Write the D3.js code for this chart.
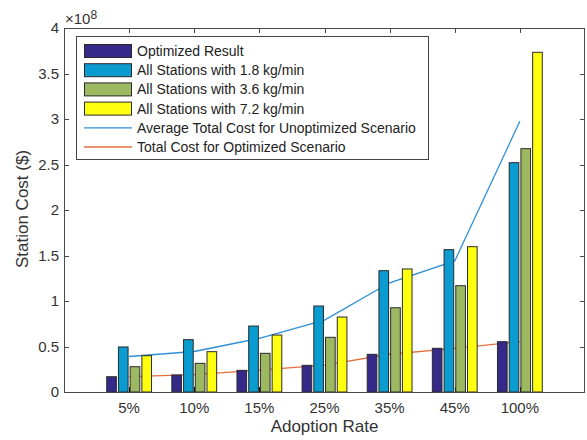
<!DOCTYPE html>
<html>
<head>
<meta charset="utf-8">
<script src="https://cdn.jsdelivr.net/npm/d3@7"></script>
<style>
  html, body { margin: 0; padding: 0; background: #fff; }
  svg { display: block; font-family: "Liberation Sans", Arial, Helvetica, sans-serif; }
</style>
</head>
<body>
<svg id="chart" width="587" height="440"></svg>
<script>
// ---- Data (values in units of 1e8 $) ----
const categories = ["5%", "10%", "15%", "25%", "35%", "45%", "100%"];
const optimizedResult = [0.168, 0.187, 0.238, 0.293, 0.414, 0.480, 0.553];
const stations18 = [0.495, 0.575, 0.725, 0.945, 1.333, 1.564, 2.52];
const stations36 = [0.278, 0.315, 0.425, 0.601, 0.926, 1.168, 2.674];
const stations72 = [0.399, 0.443, 0.626, 0.824, 1.352, 1.597, 3.733];
const avgUnoptimized = [0.39, 0.445, 0.59, 0.79, 1.2, 1.44, 2.975];
const optimizedTotal = [0.17, 0.19, 0.24, 0.295, 0.415, 0.48, 0.553];
const yTicks = [0, 0.5, 1, 1.5, 2, 2.5, 3, 3.5, 4];
const yTickLabels = ["0", "0.5", "1", "1.5", "2", "2.5", "3", "3.5", "4"];

const barSeries = [
  { name: "Optimized Result", values: optimizedResult, color: "#35298a" },
  { name: "All Stations with 1.8 kg/min", values: stations18, color: "#0a9bd0" },
  { name: "All Stations with 3.6 kg/min", values: stations36, color: "#9cb962" },
  { name: "All Stations with 7.2 kg/min", values: stations72, color: "#ffff10" }
];
const lineSeries = [
  { name: "Average Total Cost for Unoptimized Scenario", values: avgUnoptimized, color: "#2f8fd6" },
  { name: "Total Cost for Optimized Scenario", values: optimizedTotal, color: "#e2703f" }
];

// ---- Layout ----
const L = 64, R = 585, T = 28, B = 392;
const svg = d3.select("#chart");
const x = d3.scaleLinear().domain([0, 8]).range([L, R]);
const y = d3.scaleLinear().domain([0, 4]).range([B, T]);
const catPos = categories.map((c, i) => i + 1);
const slot = 0.18, barW = 0.148;
const axisColor = "#4a4a4a", textColor = "#333";

// inward ticks (drawn below bars)
const ticksG = svg.append("g").attr("stroke", axisColor).attr("stroke-width", 1);
yTicks.forEach(v => {
  const yy = Math.round(y(v)) + 0.5;
  ticksG.append("line").attr("x1", L).attr("x2", L + 5).attr("y1", yy).attr("y2", yy);
  ticksG.append("line").attr("x1", R - 5).attr("x2", R).attr("y1", yy).attr("y2", yy);
});
catPos.forEach(p => {
  const xx = Math.round(x(p)) + 0.5;
  ticksG.append("line").attr("x1", xx).attr("x2", xx).attr("y1", T).attr("y2", T + 5);
  ticksG.append("line").attr("x1", xx).attr("x2", xx).attr("y1", B - 5).attr("y2", B).attr("stroke", "#111");
});

// lines (behind bars)
const lineGen = d3.line().x((d, i) => x(catPos[i])).y(d => y(d));
lineSeries.forEach(s => {
  svg.append("path").datum(s.values).attr("d", lineGen)
    .attr("fill", "none").attr("stroke", s.color).attr("stroke-width", 1.3);
});

// bars
barSeries.forEach((s, si) => {
  svg.append("g").selectAll("rect").data(s.values).join("rect")
    .attr("x", (d, i) => x(catPos[i] + (si - 1.5) * slot - barW / 2))
    .attr("width", x(barW) - x(0))
    .attr("y", d => y(d))
    .attr("height", d => y(0) - y(d))
    .attr("fill", s.color)
    .attr("stroke", "#2a2a2a")
    .attr("stroke-width", 1);
});

// axes box
svg.append("rect").attr("x", L + 0.5).attr("y", T + 0.5)
  .attr("width", R - L - 1).attr("height", B - T)
  .attr("fill", "none").attr("stroke", axisColor).attr("stroke-width", 1);

// y tick labels
svg.append("g").selectAll("text").data(yTicks).join("text")
  .attr("x", 59).attr("y", d => y(d)).attr("dy", "0.35em")
  .attr("text-anchor", "end").attr("font-size", 15).attr("fill", textColor)
  .text((d, i) => yTickLabels[i]);

// x tick labels
svg.append("g").selectAll("text").data(categories).join("text")
  .attr("x", (d, i) => x(catPos[i])).attr("y", 413)
  .attr("text-anchor", "middle").attr("font-size", 15).attr("fill", textColor)
  .text(d => d);

// exponent label
const expT = svg.append("text").attr("x", 65).attr("y", 24).attr("font-size", 15).attr("fill", textColor);
expT.append("tspan").text("\u00d710");
expT.append("tspan").attr("font-size", 12).attr("dy", -5).text("8");

// axis titles
svg.append("text").attr("x", x(4)).attr("y", 432).attr("text-anchor", "middle")
  .attr("font-size", 17).attr("fill", textColor).text("Adoption Rate");
svg.append("text").attr("transform", "translate(28,209) rotate(-90)")
  .attr("text-anchor", "middle").attr("font-size", 17).attr("fill", textColor)
  .text("Station Cost ($)");

// legend
const lg = svg.append("g");
lg.append("rect").attr("x", 76.5).attr("y", 36.5).attr("width", 352).attr("height", 123)
  .attr("fill", "#fff").attr("stroke", "#444").attr("stroke-width", 1);
const rowY = i => 51 + i * 19.2;
barSeries.forEach((s, i) => {
  lg.append("rect").attr("x", 84.5).attr("y", rowY(i) - 6.5).attr("width", 47).attr("height", 13)
    .attr("fill", s.color).attr("stroke", "#2a2a2a").attr("stroke-width", 1);
  lg.append("text").attr("x", 137).attr("y", rowY(i)).attr("dy", "0.35em")
    .attr("font-size", 14).attr("fill", "#222").text(s.name);
});
lineSeries.forEach((s, j) => {
  const i = j + 4;
  lg.append("line").attr("x1", 84).attr("x2", 132).attr("y1", rowY(i)).attr("y2", rowY(i))
    .attr("stroke", s.color).attr("stroke-width", 1.3);
  lg.append("text").attr("x", 137).attr("y", rowY(i)).attr("dy", "0.35em")
    .attr("font-size", 14).attr("fill", "#222").text(s.name);
});
</script>
</body>
</html>
